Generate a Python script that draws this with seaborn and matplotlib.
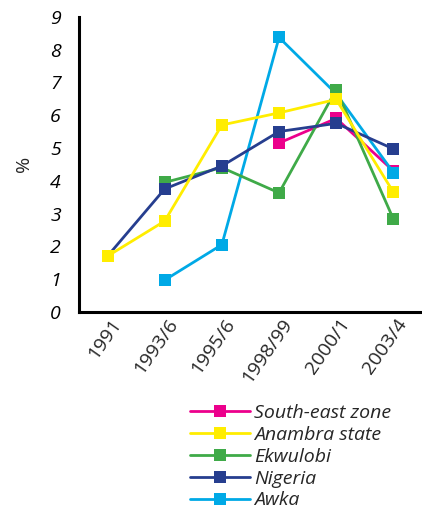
import numpy as np
import pandas as pd
import matplotlib
matplotlib.use("Agg")
import matplotlib.pyplot as plt
import matplotlib.transforms as mtransforms
import seaborn as sns

# data (%), NaN = no value for that period
periods = ["1991", "1993/6", "1995/6", "1998/99", "2000/1", "2003/4"]
south_east = [np.nan, np.nan, np.nan, 5.15, 5.9, 4.3]
anambra = [1.7, 2.77, 5.7, 6.07, 6.48, 3.65]
ekwulobi = [np.nan, 3.95, 4.4, 3.63, 6.78, 2.83]
nigeria = [1.7, 3.75, 4.45, 5.5, 5.75, 4.97]
awka = [np.nan, 0.97, 2.05, 8.37, 6.65, 4.25]

legend_order = ["South-east zone", "Anambra state", "Ekwulobi", "Nigeria", "Awka"]
draw_order = ["South-east zone", "Awka", "Ekwulobi", "Nigeria", "Anambra state"]
colors = {
    "South-east zone": "#EC008C",
    "Anambra state": "#FFED00",
    "Ekwulobi": "#3FAA48",
    "Nigeria": "#263E8F",
    "Awka": "#00A9E6",
}

series = dict(zip(legend_order, [south_east, anambra, ekwulobi, nigeria, awka]))
rows = []
for name, vals in series.items():
    for i, v in enumerate(vals):
        rows.append({"pos": i, "value": v, "series": name})
df = pd.DataFrame(rows).dropna()

sns.set_style("white")
plt.rcParams["font.family"] = ["Open Sans", "DejaVu Sans"]

fig = plt.figure(figsize=(4.22, 5.08), dpi=100)
ax = fig.add_axes([0.187, 0.386, 0.813, 0.581])

sns.lineplot(data=df, x="pos", y="value", hue="series", hue_order=draw_order,
             palette=colors, marker="s", markersize=8.5, markeredgewidth=0,
             linewidth=2, ax=ax)

ax.set_xlim(-0.5, 5.5)
ax.set_ylim(0, 9)
ax.set_yticks(range(10))
ax.set_yticklabels([str(v) for v in range(10)], fontsize=14, style="italic")
ax.tick_params(axis="y", direction="in", length=7, width=2, pad=13, colors="black")

ax.set_xticks(range(len(periods)))
ax.set_xticklabels(periods, fontsize=14, rotation=55, ha="right", va="center",
                   rotation_mode="anchor")
ax.tick_params(axis="x", which="major", length=0, pad=6)
# nudge the rotated labels a little to the right, like the original
shift = mtransforms.ScaledTranslation(7 / 72, 0, fig.dpi_scale_trans)
for lab in ax.get_xticklabels():
    lab.set_transform(lab.get_transform() + shift)
ax.set_xticks(np.arange(0.5, 6, 1), minor=True)
ax.tick_params(axis="x", which="minor", direction="out", length=5, width=2)

for side in ["top", "right"]:
    ax.spines[side].set_visible(False)
for side in ["left", "bottom"]:
    ax.spines[side].set_linewidth(2.2)
    ax.spines[side].set_color("black")

ax.set_xlabel("")
ax.set_ylabel("%", fontsize=14, labelpad=12)

handles, labels = ax.get_legend_handles_labels()
lookup = dict(zip(labels, handles))
ax.get_legend().remove()
fig.legend([lookup[n] for n in legend_order], legend_order,
           loc="upper left", bbox_to_anchor=(0.45, 0.205), frameon=False,
           prop={"size": 14, "style": "italic"}, handlelength=3.1,
           handletextpad=0.2, labelspacing=0.2, borderpad=0, borderaxespad=0)

plt.savefig("out.png", dpi=100)
plt.close()
